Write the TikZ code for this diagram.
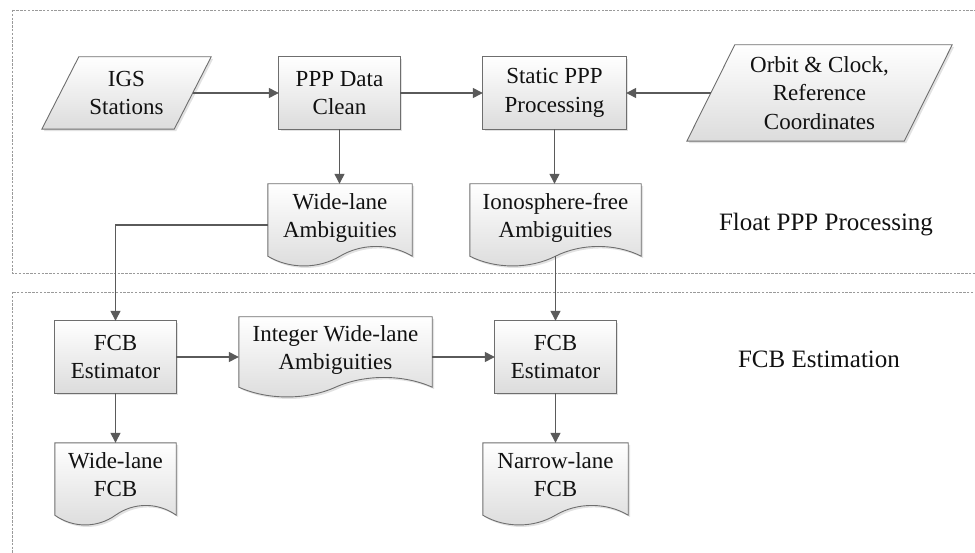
\documentclass[tikz,border=0pt]{standalone}
\usepackage{fontspec}
\setmainfont{Liberation Serif}
\usetikzlibrary{arrows.meta,shadows,backgrounds,calc}

\definecolor{edgegray}{HTML}{6E6E6E}
\definecolor{linegray}{HTML}{5A5A5A}
\definecolor{boxgray}{HTML}{DCDCDC}
\definecolor{framegray}{HTML}{9A9A9A}
\definecolor{inkblack}{HTML}{111111}

% two-line text block raised a little inside document-shaped boxes
\newcommand\docraise[1]{\raisebox{2pt}[\height][\depth]{\begin{tabular}{@{}c@{}}#1\end{tabular}}}

\tikzset{
  txt/.style={font=\fontsize{23}{28.5}\selectfont, text=inkblack, align=center, inner sep=0pt},
  procbox/.style={txt, minimum width=#1, minimum height=72pt},
  iobox/.style={txt, minimum width=#1, minimum height=72pt},
  docbox/.style={font=\fontsize{23}{28.5}\selectfont, text=inkblack, inner sep=0pt,
                 minimum width=#1, minimum height=72pt},
  zonelabel/.style={font=\fontsize{25}{30}\selectfont, text=inkblack, inner sep=0pt},
  shapefill/.style={draw=edgegray, line width=0.9pt, top color=white, bottom color=boxgray,
                    drop shadow={shadow xshift=2pt, shadow yshift=-2pt, opacity=0.25, fill=black!45}},
  zone/.style={draw=framegray, line width=0.7pt, dash pattern=on 2.5pt off 1.3pt},
  flow/.style={draw=linegray, line width=1.3pt, -{Triangle[length=10pt,width=10pt]}},
}

% outlines drawn behind the named nodes
\newcommand\drawproc[1]{\path[shapefill] (#1.north west) rectangle (#1.south east);}
\newcommand\drawio[2]{\path[shapefill] ([xshift=#2]#1.north west) -- ([xshift=#2]#1.north east)
   -- ([xshift=-#2]#1.south east) -- ([xshift=-#2]#1.south west) -- cycle;}
\newcommand\drawdoc[1]{\path[shapefill] (#1.north west) -- (#1.north east) -- (#1.south east)
   .. controls ($(#1.south east)!0.15!(#1.south west)+(0,13pt)$) and ($(#1.south east)!0.35!(#1.south west)+(0,13pt)$) .. (#1.south)
   .. controls ($(#1.south east)!0.65!(#1.south west)+(0,-13pt)$) and ($(#1.south east)!0.85!(#1.south west)+(0,-13pt)$) .. (#1.south west)
   -- cycle;}

\begin{document}
\begin{tikzpicture}[x=1pt,y=-1pt]
\useasboundingbox (0,0) rectangle (975,553);
\clip (0,0) rectangle (975,553);

% --- float PPP processing stage ---
\node[iobox=132pt] (igs) at (126.5,93) {IGS\\Stations};
\node[procbox=121pt] (ppp) at (339.5,93) {PPP Data\\Clean};
\node[procbox=143pt] (static) at (554.5,93) {Static PPP\\Processing};
\node[txt, minimum width=217pt, minimum height=96pt] (orbit) at (819.5,93) {Orbit \& Clock,\\Reference\\Coordinates};
\node[docbox=144pt] (wla) at (340,220) {\docraise{Wide-lane\\Ambiguities}};
\node[docbox=171pt] (ifa) at (555.5,220) {\docraise{Ionosphere-free\\Ambiguities}};
\node[zonelabel] (floatlbl) at (826,225) {Float PPP Processing};

% --- FCB estimation stage ---
\node[procbox=121pt] (fcb1) at (115.5,357) {FCB\\Estimator};
\node[docbox=193pt, minimum height=70pt] (iwa) at (335.5,352) {\docraise{Integer Wide-lane\\Ambiguities}};
\node[procbox=121pt] (fcb2) at (555.5,357) {FCB\\Estimator};
\node[docbox=121pt] (wlf) at (115.5,479) {\docraise{Wide-lane\\FCB}};
\node[docbox=145pt] (nlf) at (555.5,479) {\docraise{Narrow-lane\\FCB}};
\node[zonelabel] (fcblbl) at (819,359) {FCB Estimation};

\begin{scope}[on background layer]
  \draw[zone] (12,10) rectangle (995,273);
  \draw[zone] (12,292) rectangle (995,580);
  \drawio{igs}{18.5pt}
  \drawproc{ppp}
  \drawproc{static}
  \drawio{orbit}{24pt}
  \drawdoc{wla}
  \drawdoc{ifa}
  \drawproc{fcb1}
  \drawdoc{iwa}
  \drawproc{fcb2}
  \drawdoc{wlf}
  \drawdoc{nlf}
\end{scope}

% --- connectors ---
\draw[flow] (igs) -- (ppp);
\draw[flow] (ppp) -- (static);
\draw[flow] (orbit) -- (static);
\draw[flow] (ppp.south) -- (ppp.south |- wla.north);
\draw[flow] (static.south) -- (static.south |- ifa.north);
\draw[flow] ([yshift=-5pt]wla.west) -| (fcb1.north);
\draw[flow] (ifa.south) -- (fcb2.north);
\draw[flow] (fcb1.east) -- (fcb1.east -| iwa.west);
\draw[flow] (iwa.east |- fcb2.west) -- (fcb2.west);
\draw[flow] (fcb1) -- (wlf);
\draw[flow] (fcb2) -- (nlf);
\end{tikzpicture}
\end{document}
